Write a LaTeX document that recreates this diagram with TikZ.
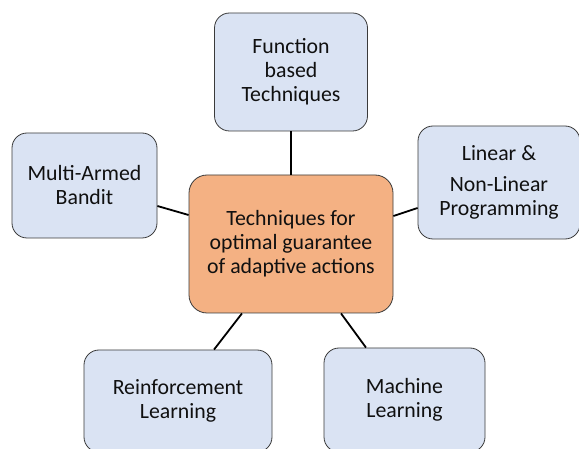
\documentclass[tikz,border=0pt]{standalone}
\usepackage{fontspec}
\setmainfont{Carlito}
\definecolor{boxblue}{HTML}{DAE3F3}
\definecolor{boxorange}{HTML}{F4B183}
\definecolor{edge}{HTML}{3A3A3A}
\definecolor{txt}{HTML}{101010}
\begin{document}
\begin{tikzpicture}[x=1pt,y=-1pt,
  box/.style={draw=edge, line width=0.8pt, rounded corners=15pt, fill=boxblue,
    align=center, inner sep=0pt, text=txt,
    font=\fontsize{21.8}{24}\selectfont},
  core/.style={box, fill=boxorange, rounded corners=18pt},
  link/.style={draw=black, line width=1.8pt}]
\useasboundingbox (0,0) rectangle (579,449);
\clip (0,0) rectangle (579,449);
\node[core, minimum width=204pt, minimum height=138pt] (ctr) at (291,244)
  {Techniques for\\optimal guarantee\\of adaptive actions};
\node[box, minimum width=153pt, minimum height=118pt] (fb) at (291,72)
  {Function\\based\\Techniques};
\node[box, minimum width=162pt, minimum height=113pt] (lin) at (499,182.5)
  {Linear \&\\[7pt]Non-Linear\\Programming};
\node[box, minimum width=145pt, minimum height=105pt] (mab) at (84.5,185.5)
  {Multi-Armed\\Bandit};
\node[box, minimum width=188pt, minimum height=102pt] (rl) at (178,401)
  {Reinforcement\\Learning};
\node[box, minimum width=161pt, minimum height=104pt] (ml) at (404.5,400)
  {Machine\\Learning};
\draw[link] (fb.south) -- (ctr.north);
\draw[link] ([yshift=-20.5pt]mab.east) -- ([yshift=29pt]ctr.west);
\draw[link] ([yshift=28pt]ctr.east) -- ([yshift=-25.5pt]lin.west);
\draw[link] ([xshift=36pt]rl.north) -- ([xshift=-49pt]ctr.south);
\draw[link] ([xshift=-38.5pt]ml.north) -- ([xshift=50pt]ctr.south);
\end{tikzpicture}
\end{document}
